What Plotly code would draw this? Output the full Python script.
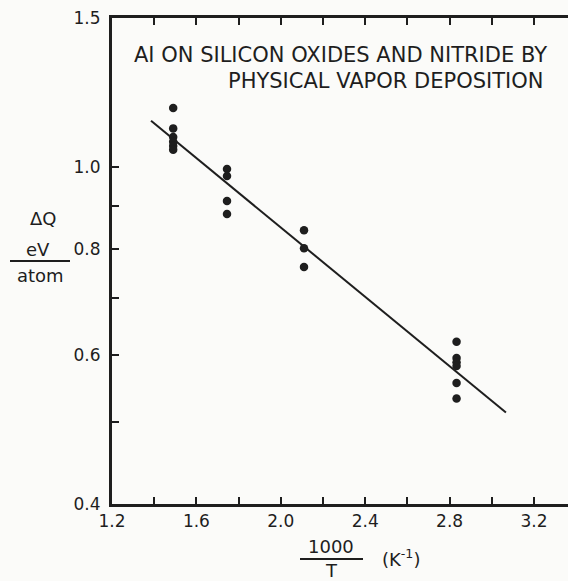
import plotly.graph_objects as go
import math

# ---- data ----
inv_T = [1.49, 1.49, 1.49, 1.49, 1.49, 1.49,
         1.745, 1.745, 1.745, 1.745,
         2.11, 2.11, 2.11,
         2.833, 2.833, 2.833, 2.833, 2.833, 2.833]
delta_q = [1.174, 1.111, 1.085, 1.071, 1.059, 1.048,
           0.995, 0.976, 0.912, 0.880,
           0.842, 0.802, 0.762,
           0.622, 0.595, 0.588, 0.582, 0.556, 0.533]
fit_x = [1.385, 3.067]
fit_y = [1.134, 0.513]

x_tickvals = [1.2, 1.4, 1.6, 1.8, 2.0, 2.2, 2.4, 2.6, 2.8, 3.0, 3.2]
x_ticktext = ["1.2", "", "1.6", "", "2.0", "", "2.4", "", "2.8", "", "3.2"]
y_tickvals = [0.4, 0.5, 0.6, 0.7, 0.8, 0.9, 1.0, 1.5]
y_ticktext = ["0.4", "", "0.6", "", "0.8", "", "1.0", "1.5"]

title_lines = ["AI ON SILICON OXIDES AND NITRIDE BY", "PHYSICAL VAPOR DEPOSITION"]

INK = "#1e1e1e"
FONT = "DejaVu Sans"

fig = go.Figure()
fig.add_trace(go.Scatter(x=fit_x, y=fit_y, mode="lines",
                         line=dict(color=INK, width=2), hoverinfo="skip",
                         showlegend=False))
fig.add_trace(go.Scatter(x=inv_T, y=delta_q, mode="markers",
                         marker=dict(color=INK, size=8.5), showlegend=False))

W, H = 568, 581
L, R, T, B = 112, 0, 18, 77

fig.update_layout(
    width=W, height=H,
    margin=dict(l=L, r=R, t=T, b=B, pad=0),
    paper_bgcolor="#fbfbf9", plot_bgcolor="#fbfbf9",
    font=dict(family=FONT, size=17, color=INK),
)
fig.update_xaxes(range=[1.2, 1.2 + (W - L - R) / 211.0],
                 tickvals=x_tickvals, ticktext=x_ticktext,
                 ticks="inside", ticklen=7, tickwidth=2, tickcolor=INK,
                 showline=True, linewidth=3, linecolor=INK, mirror="ticks",
                 showgrid=False, zeroline=False,
                 tickfont=dict(family=FONT, size=17, color=INK))
fig.update_yaxes(type="log", range=[math.log10(0.4), math.log10(1.5)],
                 tickvals=y_tickvals, ticktext=y_ticktext,
                 ticks="inside", ticklen=7, tickwidth=2, tickcolor=INK,
                 showline=True, linewidth=3, linecolor=INK, mirror=False,
                 showgrid=False, zeroline=False, ticklabelstandoff=5,
                 tickfont=dict(family=FONT, size=17, color=INK))

def px(xp):
    return (xp - L) / (W - L - R)

def py(yp):
    return (H - B - yp) / (H - T - B)

anns = []
anns.append(dict(text=title_lines[0], x=px(549), y=py(55), xanchor="right", yanchor="middle", size=21))
anns.append(dict(text=title_lines[1], x=px(545), y=py(81), xanchor="right", yanchor="middle", size=21))
# y axis title as stacked fraction
anns.append(dict(text="ΔQ", x=px(43), y=py(218), xanchor="center", yanchor="middle", size=18))
anns.append(dict(text="eV", x=px(38), y=py(249), xanchor="center", yanchor="middle", size=18))
anns.append(dict(text="atom", x=px(40), y=py(275), xanchor="center", yanchor="middle", size=18))
# x axis title as fraction
anns.append(dict(text="1000", x=px(331), y=py(546), xanchor="center", yanchor="middle", size=18))
anns.append(dict(text="T", x=px(331), y=py(570), xanchor="center", yanchor="middle", size=18))
anns.append(dict(text="(K<sup>-1</sup>)", x=px(401), y=py(558), xanchor="center", yanchor="middle", size=18))
for a in anns:
    s = a.pop("size")
    a.update(xref="paper", yref="paper", showarrow=False,
             font=dict(family=FONT, size=s, color=INK))
fig.update_layout(annotations=anns)

# fraction bars
fig.add_shape(type="line", xref="paper", yref="paper",
              x0=px(10), x1=px(70), y0=py(261), y1=py(261),
              line=dict(color=INK, width=2))
fig.add_shape(type="line", xref="paper", yref="paper",
              x0=px(300), x1=px(363), y0=py(559), y1=py(559),
              line=dict(color=INK, width=2))

fig.write_html("out.html")
